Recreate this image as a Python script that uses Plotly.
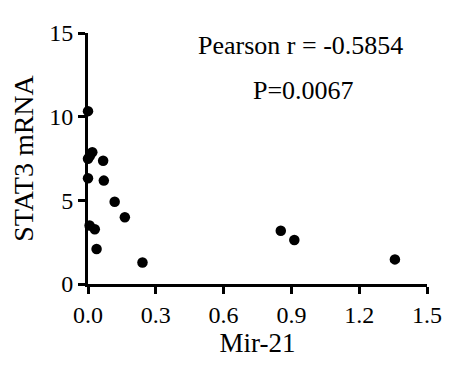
import plotly.graph_objects as go

mir21 = [0.0, 0.019, 0.0, 0.008, 0.067, 0.0, 0.07, 0.118, 0.163, 0.007, 0.03, 0.038, 0.241, 0.853, 0.913, 1.358]
stat3 = [10.33, 7.87, 7.48, 7.65, 7.37, 6.32, 6.18, 4.92, 3.99, 3.5, 3.27, 2.09, 1.28, 3.18, 2.63, 1.47]
x_ticks = [0.0, 0.3, 0.6, 0.9, 1.2, 1.5]
x_ticklabels = ["0.0", "0.3", "0.6", "0.9", "1.2", "1.5"]
y_ticks = [0, 5, 10, 15]

font = "Liberation Serif"

# page body has an 8px default margin; compensate so plot area lands at
# x 88..431, y 24..284 in the 454x374 window
W, H = 446, 366
L, R, T, B = 80, 23, 16, 90
pw = W - L - R
ph = H - T - B

fig = go.Figure()
fig.add_trace(go.Scatter(
    x=mir21, y=stat3, mode="markers",
    marker=dict(color="black", size=10.5, symbol="circle"),
    cliponaxis=False, showlegend=False,
))

fig.update_layout(
    width=W, height=H,
    margin=dict(l=L, r=R, t=T, b=B),
    paper_bgcolor="white", plot_bgcolor="white",
    font=dict(family=font, size=24, color="black"),
    xaxis=dict(
        range=[0, 1.5], tickvals=x_ticks, ticktext=x_ticklabels,
        showline=True, linecolor="black", linewidth=3,
        ticks="outside", ticklen=7, tickwidth=3, tickcolor="black",
        showgrid=False, zeroline=False,
        title=dict(text="Mir-21", font=dict(family=font, size=27), standoff=2),
        tickfont=dict(family=font, size=24),
    ),
    yaxis=dict(
        range=[0, 15], tickvals=y_ticks,
        showline=True, linecolor="black", linewidth=3,
        ticks="outside", ticklen=7, tickwidth=3, tickcolor="black",
        showgrid=False, zeroline=False,
        title=dict(text="STAT3 mRNA", font=dict(family=font, size=28), standoff=8),
        tickfont=dict(family=font, size=24),
    ),
)
fig.add_annotation(text="Pearson r = -0.5854", x=(303 - 88) / pw, y=(284 - 37) / ph,
                   xref="paper", yref="paper", showarrow=False,
                   font=dict(family=font, size=26), xanchor="center", yanchor="middle")
fig.add_annotation(text="P=0.0067", x=(306 - 88) / pw, y=(284 - 84) / ph,
                   xref="paper", yref="paper", showarrow=False,
                   font=dict(family=font, size=26), xanchor="center", yanchor="middle")

fig.write_html("out.html")
